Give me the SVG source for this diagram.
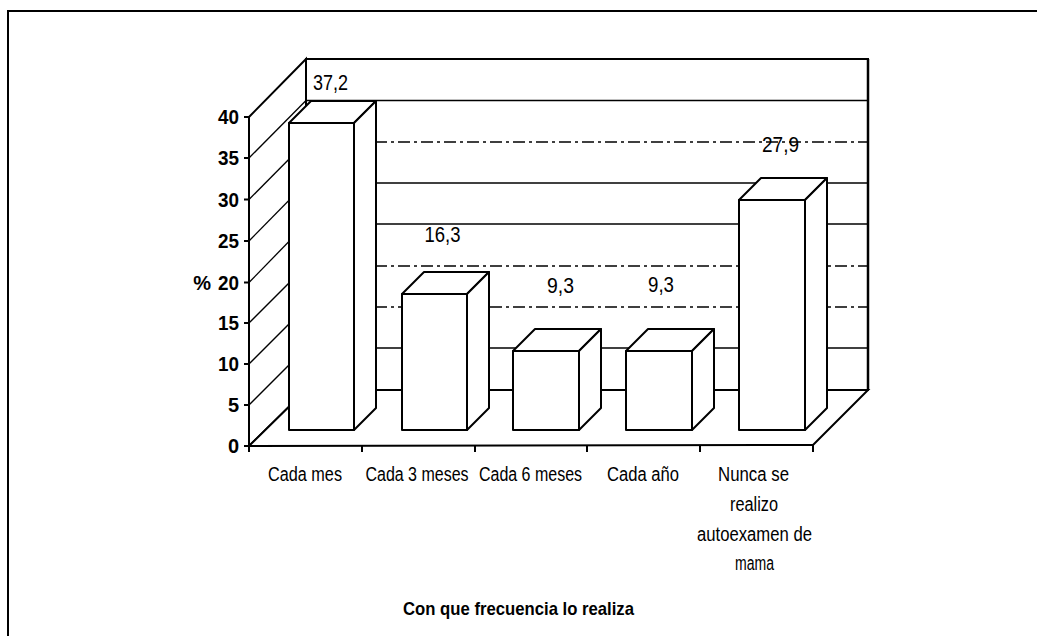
<svg xmlns="http://www.w3.org/2000/svg" width="1037" height="636" viewBox="0 0 1037 636">
<style>
.t{font-family:"Liberation Sans",Arial,sans-serif;fill:#000}
.yl{font-size:20px;font-weight:bold;text-anchor:end}
.dl{font-size:22px}
.cl{font-size:20px;text-anchor:middle}
.ti{font-size:19px;font-weight:bold;text-anchor:middle}
.ax{stroke:#000;stroke-width:2;fill:none}
.g{stroke:#000;stroke-width:1.3;fill:none}
.gd{stroke:#000;stroke-width:1.3;fill:none;stroke-dasharray:12 4 3 4}
.bar{fill:#fff;stroke:#000;stroke-width:2;stroke-linejoin:round}
</style>
<rect x="0" y="0" width="1037" height="636" fill="#fff"/>
<g id="frame"><path class="ax" d="M8,636 V11 H1037"/></g>
<g id="walls">
<rect x="306" y="59" width="562" height="331" fill="#fff" stroke="#000" stroke-width="2"/>
<polygon points="249,117 306,59 306,390 249,446" fill="#fff" stroke="#000" stroke-width="2"/>
<polygon points="249,446 306,390 868,390 813,445" fill="#fff" stroke="#000" stroke-width="2"/>
</g>
<g id="gridlines">
<line class="g" x1="306" y1="100.5" x2="868" y2="100.5"/>
<line class="gd" x1="306" y1="142" x2="868" y2="142"/>
<line class="g" x1="306" y1="183" x2="868" y2="183"/>
<line class="g" x1="306" y1="224" x2="868" y2="224"/>
<line class="gd" x1="306" y1="266" x2="868" y2="266"/>
<line class="gd" x1="306" y1="307" x2="868" y2="307"/>
<line class="g" x1="306" y1="348" x2="868" y2="348"/>
<line class="g" x1="249" y1="158" x2="306" y2="100.5"/>
<line class="g" x1="249" y1="199.5" x2="306" y2="142"/>
<line class="g" x1="249" y1="241" x2="306" y2="183"/>
<line class="g" x1="249" y1="282.5" x2="306" y2="224"/>
<line class="g" x1="249" y1="323" x2="306" y2="266"/>
<line class="g" x1="249" y1="364" x2="306" y2="307"/>
<line class="g" x1="249" y1="405" x2="306" y2="348"/>
</g>
<g id="axes">
<path class="ax" d="M244,117H249M244,158H249M244,199.5H249M244,241H249M244,282.5H249M244,323H249M244,364H249M244,405H249M244,446H249"/>
<path class="ax" d="M249,445V452M362,445V452M475,445V452M587,445V452M700,445V452M813,445V452"/>
<line x1="868" y1="59" x2="868" y2="390" stroke="#000" stroke-width="2.5"/>
</g>
<g id="bar-cada-mes">
<polygon class="bar" points="289,123 311,101 376,101 354,123"/>
<polygon class="bar" points="354,123 376,101 376,408 354,430"/>
<rect class="bar" x="289" y="123" width="65" height="307"/>
<text class="t dl" x="330.5" y="90" text-anchor="middle" textLength="35" lengthAdjust="spacingAndGlyphs">37,2</text>
</g>
<g id="bar-cada-3-meses">
<polygon class="bar" points="402,294 424,272 489,272 467,294"/>
<polygon class="bar" points="467,294 489,272 489,408 467,430"/>
<rect class="bar" x="402" y="294" width="65" height="136"/>
<text class="t dl" x="442.5" y="242" text-anchor="middle" textLength="36" lengthAdjust="spacingAndGlyphs">16,3</text>
</g>
<g id="bar-cada-6-meses">
<polygon class="bar" points="513,351 535,329 601,329 579,351"/>
<polygon class="bar" points="579,351 601,329 601,408 579,430"/>
<rect class="bar" x="513" y="351" width="66" height="79"/>
<text class="t dl" x="560.5" y="293" text-anchor="middle" textLength="27" lengthAdjust="spacingAndGlyphs">9,3</text>
</g>
<g id="bar-cada-ano">
<polygon class="bar" points="626,351 648,329 714,329 692,351"/>
<polygon class="bar" points="692,351 714,329 714,408 692,430"/>
<rect class="bar" x="626" y="351" width="66" height="79"/>
<text class="t dl" x="661" y="292" text-anchor="middle" textLength="26" lengthAdjust="spacingAndGlyphs">9,3</text>
</g>
<g id="bar-nunca">
<polygon class="bar" points="739,200 761,178 827,178 805,200"/>
<polygon class="bar" points="805,200 827,178 827,408 805,430"/>
<rect class="bar" x="739" y="200" width="66" height="230"/>
<text class="t dl" x="780.5" y="152" text-anchor="middle" textLength="37" lengthAdjust="spacingAndGlyphs">27,9</text>
</g>
<g id="y-labels">
<text class="t yl" x="239" y="124" textLength="21" lengthAdjust="spacingAndGlyphs">40</text>
<text class="t yl" x="239" y="165" textLength="21" lengthAdjust="spacingAndGlyphs">35</text>
<text class="t yl" x="239" y="206.5" textLength="21" lengthAdjust="spacingAndGlyphs">30</text>
<text class="t yl" x="239" y="248" textLength="21" lengthAdjust="spacingAndGlyphs">25</text>
<text class="t yl" x="239" y="289.5" textLength="21" lengthAdjust="spacingAndGlyphs">20</text>
<text class="t yl" x="239" y="330" textLength="21" lengthAdjust="spacingAndGlyphs">15</text>
<text class="t yl" x="239" y="371" textLength="21" lengthAdjust="spacingAndGlyphs">10</text>
<text class="t yl" x="239" y="412">5</text>
<text class="t yl" x="239" y="453">0</text>
<text class="t yl" x="211" y="289.5">%</text>
</g>
<g id="x-labels">
<text class="t cl" x="305" y="481" textLength="74" lengthAdjust="spacingAndGlyphs">Cada mes</text>
<text class="t cl" transform="translate(417,481) scale(0.8,1)" x="0" y="0">Cada 3 meses</text>
<text class="t cl" transform="translate(530.5,481) scale(0.8,1)" x="0" y="0">Cada 6 meses</text>
<text class="t cl" x="643" y="481" textLength="72" lengthAdjust="spacingAndGlyphs">Cada año</text>
<text class="t cl" x="753.5" y="481" textLength="71" lengthAdjust="spacingAndGlyphs">Nunca se</text>
<text class="t cl" x="754" y="511" textLength="48" lengthAdjust="spacingAndGlyphs">realizo</text>
<text class="t cl" x="754.5" y="541" textLength="115" lengthAdjust="spacingAndGlyphs">autoexamen de</text>
<text class="t cl" x="754.5" y="570" textLength="39" lengthAdjust="spacingAndGlyphs">mama</text>
</g>
<g id="title">
<text class="t ti" x="518.5" y="615" textLength="231" lengthAdjust="spacingAndGlyphs">Con que frecuencia lo realiza</text>
</g>
</svg>
